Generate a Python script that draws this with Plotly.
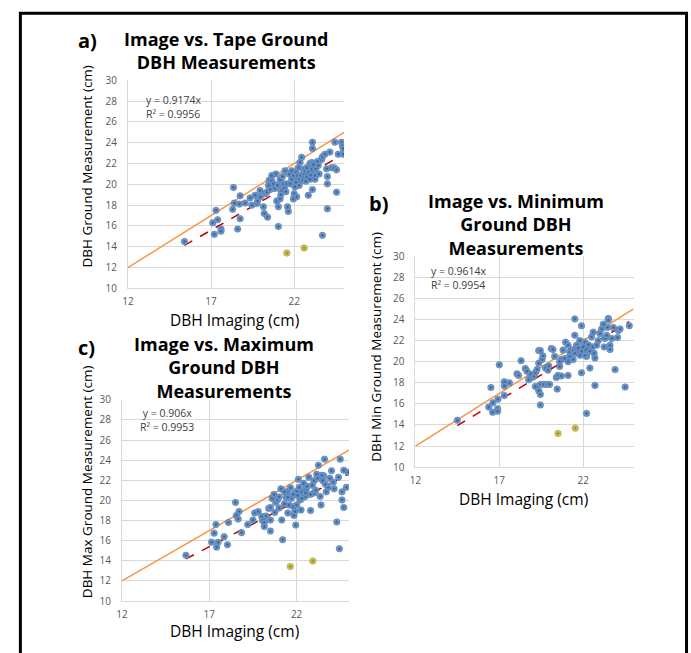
import numpy as np
import plotly.graph_objects as go

W, H = 691, 653

# ---------------- data ----------------
a_x = [15.4, 17.1, 17.3, 17.4, 17.2, 17.6, 17.6, 18.35, 18.3, 18.4, 18.75, 18.7, 18.6, 18.75,
       19.05, 19.35, 19.45, 19.65, 19.75, 19.95, 19.97, 20.15, 20.2, 20.4, 20.25, 20.35, 20.45,
       20.5, 20.65, 20.65, 20.75, 20.85, 20.9, 20.95, 21.0, 21.05, 21.05, 21.15, 21.15, 21.25,
       21.3, 21.35, 21.4, 21.45, 21.55, 21.6, 21.65, 21.7, 21.75, 21.85, 21.85, 21.95, 21.95,
       22.0, 22.05, 22.1, 22.15, 22.2, 22.25, 22.3, 22.35, 22.4, 22.45, 22.5, 22.55, 22.6, 22.65,
       22.75, 22.75, 22.85, 22.85, 22.95, 22.95, 23.05, 23.05, 23.1, 23.1, 23.1, 23.15, 23.25,
       23.25, 23.3, 23.45, 23.65, 23.7, 23.7, 23.85, 23.95, 24.0, 24.0, 24.0, 24.15, 24.25, 24.4,
       24.45, 24.55, 24.55, 24.65, 24.85, 24.9, 24.95, 24.95,
       21.2, 21.5, 22.1, 22.3, 22.7, 23.0, 23.4, 23.5, 20.55, 19.8]
a_y = [14.5, 16.3, 17.5, 16.6, 15.2, 15.7, 15.5, 19.7, 17.6, 18.2, 18.9, 18.1, 15.7, 16.7,
       18.2, 18.7, 18.0, 18.95, 18.15, 19.4, 18.8, 17.85, 17.2, 16.85, 19.1, 19.25, 19.9,
       20.4, 20.85, 20.35, 20.05, 19.6, 21.0, 18.4, 19.9, 17.85, 15.95, 18.6, 20.45, 19.4,
       20.75, 20.05, 19.6, 21.3, 20.05, 17.85, 17.4, 21.0, 20.05, 20.5, 21.3, 18.6, 20.85,
       19.1, 19.75, 21.15, 18.8, 20.85, 21.6, 20.5, 22.1, 20.85, 22.6, 20.4, 21.45, 21.0, 21.3,
       21.6, 20.7, 18.95, 21.15, 20.5, 22.0, 22.1, 21.45, 24.05, 23.45, 19.5, 21.9, 20.5,
       20.85, 21.5, 21.8, 22.4, 22.65, 15.1, 22.9, 21.5, 20.05, 20.75, 17.65, 23.1, 21.6, 21.6,
       24.05, 21.4, 19.25, 22.9, 24.05, 23.7, 23.45, 22.9,
       19.0, 19.3, 20.2, 19.9, 20.3, 20.9, 22.2, 21.0, 19.5, 18.4]
a_out_x = [21.56, 22.6]
a_out_y = [13.4, 13.88]

b_x = [14.5, 16.37, 16.62, 16.92, 16.9, 16.9, 16.6, 16.5, 17.0, 17.3, 17.3, 17.3, 17.6, 18.05,
       18.15, 18.3, 18.55, 18.65, 18.75, 18.85, 18.95, 19.05, 19.15, 19.15, 19.25, 19.35, 19.45,
       19.35, 19.35, 19.45, 19.45, 19.55, 19.6, 19.45, 19.65, 19.85, 20.0, 19.75, 19.95, 20.1,
       20.2, 20.3, 20.4, 20.45, 20.5, 20.6, 20.7, 20.7, 20.8, 20.95, 21.1, 21.1, 21.2, 21.3,
       21.4, 21.5, 21.5, 21.6, 21.7, 21.8, 21.9, 21.9, 22.0, 22.1, 22.2, 22.2, 22.2, 22.4, 22.5,
       22.6, 22.65, 22.7, 22.7, 22.8, 22.9, 23.0, 23.1, 23.2, 23.25, 23.3, 23.4, 23.45, 23.5,
       23.5, 23.6, 23.6, 23.7, 23.8, 23.9, 24.05, 24.1, 24.2, 24.5, 24.75,
       21.1, 21.2, 21.4, 21.5, 21.7, 21.8, 21.9, 22.1, 22.3, 22.4, 22.55, 20.9, 20.6, 19.9]
b_y = [14.45, 15.7, 16.1, 16.45, 15.55, 15.3, 15.2, 17.55, 19.7, 18.1, 17.7, 16.8, 18.0, 18.85,
       18.7, 20.1, 19.35, 19.1, 18.3, 18.8, 18.5, 18.65, 18.95, 17.65, 19.25, 21.05, 21.05,
       19.85, 17.25, 16.9, 15.9, 20.2, 20.55, 17.85, 17.85, 17.85, 17.85, 19.4, 19.6, 21.25,
       21.15, 20.5, 18.5, 17.4, 18.7, 19.55, 20.2, 18.65, 21.1, 21.85, 18.7, 20.0, 20.5, 21.1,
       20.2, 24.05, 22.5, 21.55, 20.95, 22.0, 23.4, 18.95, 21.4, 21.85, 21.15, 20.5, 15.1, 19.4,
       22.35, 22.8, 20.8, 20.35, 17.75, 21.55, 22.0, 22.65, 23.1, 23.55, 21.4, 22.2, 22.5, 23.25,
       24.1, 23.95, 21.55, 21.15, 22.2, 23.25, 19.25, 22.3, 22.95, 23.1, 17.6, 23.4,
       21.55, 20.9, 21.0, 20.8, 21.3, 20.6, 21.0, 20.6, 21.6, 21.0, 21.4, 20.3, 20.0, 19.2]
b_out_x = [20.5, 21.53]
b_out_y = [13.2, 13.7]

c_x = [15.66, 17.13, 17.28, 17.38, 17.42, 17.5, 17.85, 18.04, 18.1, 18.5, 18.55, 18.65, 18.7,
       18.85, 19.2, 19.5, 19.6, 19.8, 20.0, 20.05, 20.15, 20.15, 20.25, 20.4, 20.5, 20.5, 20.5,
       20.6, 20.7, 20.75, 20.8, 20.9, 21.0, 21.0, 21.1, 21.15, 21.2, 21.3, 21.4, 21.45, 21.5,
       21.55, 21.65, 21.7, 21.8, 21.85, 21.9, 21.95, 22.0, 22.05, 22.1, 22.15, 22.2, 22.25,
       22.3, 22.4, 22.5, 22.55, 22.7, 22.8, 22.9, 23.0, 23.0, 23.15, 23.25, 23.35, 23.4, 23.5,
       23.55, 23.6, 23.7, 23.8, 23.9, 24.0, 24.1, 24.15, 24.3, 24.4, 24.45, 24.5, 24.6, 24.6,
       24.7, 24.7, 24.85, 24.95,
       21.3, 21.5, 21.8, 22.0, 22.3, 22.5, 22.6, 22.8, 23.1, 23.2, 23.45, 23.65]
c_y = [14.55, 15.85, 16.75, 17.6, 15.35, 15.85, 16.4, 15.6, 17.8, 19.8, 18.5, 18.15, 18.9,
       16.8, 17.6, 18.05, 18.75, 18.9, 18.4, 18.0, 17.8, 17.4, 18.45, 19.2, 19.3, 18.05, 16.95,
       20.2, 20.6, 18.8, 19.8, 20.05, 20.35, 19.25, 21.15, 18.05, 16.1, 19.65, 20.3, 20.85, 18.75,
       19.55, 21.25, 20.2, 19.4, 18.5, 18.9, 17.55, 19.55, 20.5, 22.1, 21.3, 20.05, 19.05,
       20.85, 21.7, 20.4, 21.15, 22.3, 19.0, 21.5, 20.75, 21.95, 22.6, 23.5, 20.4, 19.55, 21.95,
       22.45, 24.1, 20.85, 21.3, 22.2, 22.95, 21.8, 21.15, 17.85, 22.3, 15.2, 24.1, 20.85, 20.05,
       19.3, 23.0, 21.3, 22.8,
       20.85, 20.3, 20.6, 20.9, 20.2, 20.75, 21.4, 20.6, 21.0, 22.2, 22.5, 21.6]
c_out_x = [21.64, 22.93]
c_out_y = [13.43, 13.98]

slopes = {"a": 0.9174, "b": 0.9614, "c": 0.906}
r2 = {"a": 0.9956, "b": 0.9954, "c": 0.9953}
one_to_one = [12, 25]

x_ticks = [12, 17, 22]
y_ticks = [10, 12, 14, 16, 18, 20, 22, 24, 26, 28, 30]

titles = {
    "a": "Image vs. Tape Ground<br>DBH Measurements",
    "b": "Image vs. Minimum<br>Ground DBH<br>Measurements",
    "c": "Image vs. Maximum<br>Ground DBH<br>Measurements",
}
y_titles = {
    "a": "DBH Ground Measurement (cm)",
    "b": "DBH Min Ground Measurement (cm)",
    "c": "DBH Max Ground Measurement (cm)",
}
x_title = "DBH Imaging (cm)"

# ---------------- layout geometry (pixels) ----------------
def fx(p):
    return p / W

def fy(p):
    return 1 - p / H

boxes = {  # left, right, top, bottom in pixels
    "a": (123, 341, 74, 287),
    "b": (413, 633, 254, 470),
    "c": (117, 346, 401, 607),
}

fig = go.Figure()

panels = [
    ("a", a_x, a_y, a_out_x, a_out_y, "x", "y"),
    ("b", b_x, b_y, b_out_x, b_out_y, "x2", "y2"),
    ("c", c_x, c_y, c_out_x, c_out_y, "x3", "y3"),
]

blue = dict(color="#8fb4e3", size=6.5,
            gradient=dict(type="radial", color="#2c5a92"),
            line=dict(width=0.5, color="#355f93"))
yellow = dict(color="#e8e070", size=6.5,
              gradient=dict(type="radial", color="#8a8420"),
              line=dict(width=0.5, color="#8a8420"))

for key, xs, ys, oxs, oys, xa, ya in panels:
    fig.add_trace(go.Scatter(x=one_to_one, y=one_to_one, mode="lines",
                             line=dict(color="#f79646", width=1.5),
                             xaxis=xa, yaxis=ya, showlegend=False, hoverinfo="skip"))
    allx = np.array(xs + oxs)
    tx = np.array([allx.min(), allx.max()])
    fig.add_trace(go.Scatter(x=tx, y=slopes[key] * tx, mode="lines",
                             line=dict(color="#c00000", width=1.5, dash="dash"),
                             xaxis=xa, yaxis=ya, showlegend=False, hoverinfo="skip"))
    fig.add_trace(go.Scatter(x=xs, y=ys, mode="markers", marker=blue,
                             xaxis=xa, yaxis=ya, showlegend=False))
    fig.add_trace(go.Scatter(x=oxs, y=oys, mode="markers", marker=yellow,
                             xaxis=xa, yaxis=ya, showlegend=False))

tickfont = dict(family="Open Sans, sans-serif", size=10, color="#595959")
axis_common = dict(showgrid=True, gridcolor="#d9d9d9", gridwidth=1,
                   zeroline=False, showline=True, linecolor="#d9d9d9", linewidth=1,
                   tickfont=tickfont, ticks="", fixedrange=True)

layout_axes = {}
for i, key in enumerate(["a", "b", "c"]):
    l, r, t, b = boxes[key]
    sfx = "" if i == 0 else str(i + 1)
    layout_axes["xaxis" + sfx] = dict(axis_common, domain=[fx(l), fx(r)], range=[12, 25],
                                      tickvals=x_ticks, anchor="y" + sfx,
                                      ticklabelstandoff=4)
    layout_axes["yaxis" + sfx] = dict(axis_common, domain=[fy(b), fy(t)], range=[10, 30],
                                      tickvals=y_ticks, anchor="x" + sfx,
                                      ticklabelstandoff=8)

fig.update_layout(**layout_axes)

ann = []
title_font = dict(family="Open Sans, sans-serif", size=18, color="#000000", weight=800)
label_font = dict(family="Open Sans, sans-serif", size=20, color="#000000", weight=800)
axt_font = dict(family="Open Sans, sans-serif", size=13.5, color="#000000")
xt_font = dict(family="Open Sans, sans-serif", size=15.5, color="#000000")
eq_font = dict(family="Open Sans, sans-serif", size=10.5, color="#404040")

title_pos = {"a": (222, 43), "b": (514, 222), "c": (220, 368)}
label_pos = {"a": (82, 33), "b": (376, 200), "c": (81, 347)}
ytitle_pos = {"a": (82, 162), "b": (373, 347), "c": (82, 485)}
xtitle_pos = {"a": (231, 319), "b": (522, 503), "c": (231, 638)}
eq_pos = {"a": (139, 101, "left"), "b": (427, 276, "left"), "c": (162, 422, "center")}

for key in ["a", "b", "c"]:
    tx_, ty_ = title_pos[key]
    ann.append(dict(x=fx(tx_), y=fy(ty_), xref="paper", yref="paper", text="<b>" + titles[key] + "</b>",
                    showarrow=False, font=title_font, xanchor="center", yanchor="middle",
                    align="center"))
    lx, ly = label_pos[key]
    ann.append(dict(x=fx(lx), y=fy(ly), xref="paper", yref="paper", text="<b>" + key + ")</b>",
                    showarrow=False, font=label_font, xanchor="center", yanchor="middle"))
    yx, yy = ytitle_pos[key]
    ann.append(dict(x=fx(yx), y=fy(yy), xref="paper", yref="paper", text=y_titles[key],
                    showarrow=False, font=axt_font, textangle=-90,
                    xanchor="center", yanchor="middle"))
    xx, xy = xtitle_pos[key]
    ann.append(dict(x=fx(xx), y=fy(xy), xref="paper", yref="paper", text=x_title,
                    showarrow=False, font=xt_font, xanchor="center", yanchor="middle"))
    ex, ey, al = eq_pos[key]
    ann.append(dict(x=fx(ex), y=fy(ey), xref="paper", yref="paper",
                    text=f"y = {slopes[key]}x<br>R² = {r2[key]}",
                    showarrow=False, font=eq_font, align=al,
                    xanchor="left" if al == "left" else "center", yanchor="middle"))

fig.update_layout(
    width=W, height=H,
    margin=dict(l=0, r=0, t=0, b=0),
    paper_bgcolor="white", plot_bgcolor="white",
    annotations=ann,
    shapes=[dict(type="rect", xref="paper", yref="paper",
                 x0=fx(14.5), x1=fx(686.5), y0=-0.05, y1=fy(5.5),
                 line=dict(color="#000000", width=3))],
)

fig.write_html("out.html",
               config={"displayModeBar": False},
               post_script="document.body.style.margin='0';document.body.style.overflow='hidden';"
                           "document.documentElement.style.overflow='hidden';")
